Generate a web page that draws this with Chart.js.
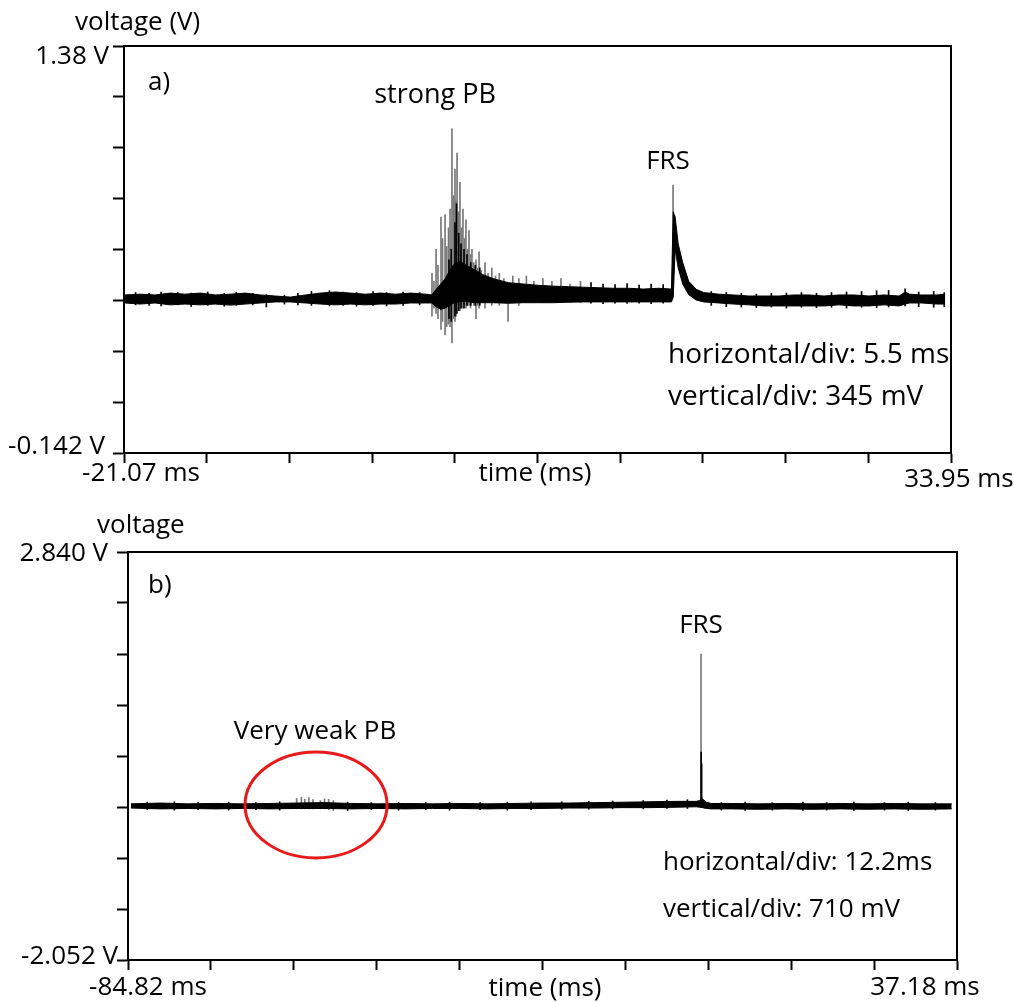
<!DOCTYPE html>
<html>
<head>
    <title>Scope traces - strong PB / very weak PB</title>
    <script src="https://cdn.jsdelivr.net/npm/chart.js"></script>
    <style>
        body { margin: 0; background: #fff; }
        #wrap { position: relative; width: 1014px; height: 1002px; }
        canvas { position: absolute; left: 0; }
    </style>
</head>
<body>
<div id="wrap">
    <canvas id="chartA" width="1014" height="500" style="top:0px"></canvas>
    <canvas id="chartB" width="1014" height="502" style="top:500px"></canvas>
</div>

<script>
    // ---------- panel a) ----------
    const aTimeRange = [-21.07, 33.95];          // ms
    const aVoltRange = [-0.142, 1.38];           // V
    const aTimeTickLabels = ['-21.07 ms', '33.95 ms'];
    const aVoltTickLabels = ['-0.142 V', '1.38 V'];

    // noise band (upper / lower edge of the trace)
    const aBandTime = [-21.0, -20.0, -19.0, -18.0, -17.0, -16.0, -15.0, -14.0, -13.0, -12.0, -11.0, -10.0, -9.0, -8.0, -7.0, -6.0, -5.0, -4.0, -3.0, -2.0, -1.0,
        -0.6, -0.3, 0.0, 0.3, 0.6, 0.9, 1.3, 1.7, 2.2, 2.8, 3.5,
        4.5, 5.5, 6.5, 7.5, 8.5, 9.5, 10.5, 11.5, 12.5, 13.5, 14.5,
        15.35, 15.47, 15.6, 15.8, 16.1, 16.5, 17.0, 17.5,
        18.5, 19.5, 20.5, 21.5, 22.5, 23.5, 24.5, 25.5, 26.5, 27.5, 28.5, 29.5, 30.5,
        30.9, 31.2, 32.0, 33.0, 33.55];
    const aBandHigh = [0.449, 0.452, 0.449, 0.456, 0.452, 0.456, 0.449, 0.452, 0.456, 0.449, 0.445, 0.441, 0.449, 0.456, 0.460, 0.456, 0.452, 0.456, 0.452, 0.456, 0.452,
        0.449, 0.470, 0.490, 0.510, 0.540, 0.565, 0.575, 0.560, 0.545, 0.525, 0.510,
        0.495, 0.490, 0.485, 0.482, 0.480, 0.478, 0.476, 0.474, 0.474, 0.471, 0.474,
        0.471, 0.760, 0.740, 0.640, 0.570, 0.500, 0.470, 0.458,
        0.452, 0.449, 0.445, 0.445, 0.445, 0.449, 0.449, 0.445, 0.449, 0.449, 0.445, 0.449, 0.445,
        0.460, 0.452, 0.449, 0.449, 0.452];
    const aBandLow = [0.419, 0.415, 0.419, 0.412, 0.415, 0.412, 0.415, 0.411, 0.415, 0.419, 0.423, 0.423, 0.419, 0.415, 0.412, 0.415, 0.412, 0.415, 0.415, 0.419, 0.419,
        0.419, 0.405, 0.395, 0.400, 0.410, 0.420, 0.425, 0.425, 0.420, 0.420, 0.420,
        0.418, 0.420, 0.420, 0.420, 0.422, 0.423, 0.423, 0.423, 0.423, 0.423, 0.423,
        0.423, 0.440, 0.620, 0.550, 0.490, 0.450, 0.430, 0.423,
        0.419, 0.415, 0.412, 0.408, 0.408, 0.408, 0.408, 0.408, 0.412, 0.408, 0.408, 0.412, 0.408,
        0.415, 0.419, 0.419, 0.415, 0.415];

    // thin grey discharge spikes (strong PB burst + FRS tip)
    const aSpikeTime = [-0.58, -0.45, -0.31, -0.18, 0.02, 0.12, 0.29, 0.40, 0.52, 0.62, 0.75, 0.85, 0.95,
        1.02, 1.09, 1.18, 1.28, 1.38, 1.48, 1.58, 1.68, 1.78, 1.88, 1.98,
        2.08, 2.20, 2.35, 2.45, 2.55, 2.70, 2.95, 3.15, 3.40, 3.65, 3.90,
        4.20, 4.48, 4.80, 5.20, 5.70, 6.20, 6.80, 7.40, 8.00, 8.60, 9.30, 15.46];
    const aSpikeLow = [0.37, 0.40, 0.38, 0.36, 0.32, 0.35, 0.30, 0.33, 0.34, 0.33, 0.27, 0.36, 0.35,
        0.37, 0.38, 0.39, 0.39, 0.40, 0.40, 0.41, 0.40, 0.41, 0.41, 0.40,
        0.42, 0.41, 0.36, 0.41, 0.40, 0.42, 0.40, 0.42, 0.41, 0.42, 0.41,
        0.42, 0.35, 0.42, 0.41, 0.42, 0.42, 0.42, 0.42, 0.42, 0.42, 0.42, 0.45];
    const aSpikeHigh = [0.53, 0.50, 0.62, 0.56, 0.74, 0.66, 0.75, 0.63, 0.70, 0.77, 1.07, 0.82, 0.92,
        0.80, 0.98, 0.76, 0.87, 0.70, 0.77, 0.66, 0.73, 0.62, 0.69, 0.60,
        0.62, 0.57, 0.58, 0.55, 0.61, 0.54, 0.57, 0.53, 0.55, 0.52, 0.53,
        0.51, 0.49, 0.52, 0.51, 0.52, 0.50, 0.51, 0.50, 0.51, 0.49, 0.50, 0.86];

    // short black noise whiskers on the baseline (and dark core of the PB burst)
    const aNoiseTime = [-20.3, -19.4, -18.6, -17.5, -16.6, -15.5, -14.4, -13.6, -12.5, -11.6, -10.4, -9.5, -8.6, -7.4, -6.5, -5.6, -4.5, -3.6, -2.5, -1.4,
        0.55, 0.70, 0.95, 1.05, 1.20, 1.35, 1.55, 1.75, 2.0, 2.3, 2.6,
        10.0, 10.8, 11.6, 12.4, 13.2, 14.0, 14.8,
        18.0, 19.0, 20.0, 21.0, 22.0, 23.0, 24.0, 25.0, 26.0, 27.0, 28.0, 29.0, 29.8, 30.9, 31.8, 32.8, 33.5];
    const aNoiseLow = [0.412, 0.410, 0.408, 0.412, 0.406, 0.410, 0.407, 0.410, 0.412, 0.404, 0.415, 0.412, 0.410, 0.408, 0.410, 0.407, 0.410, 0.408, 0.410, 0.412,
        0.36, 0.35, 0.37, 0.38, 0.39, 0.40, 0.40, 0.41, 0.41, 0.41, 0.41,
        0.418, 0.416, 0.418, 0.417, 0.418, 0.416, 0.418,
        0.410, 0.405, 0.404, 0.402, 0.404, 0.400, 0.403, 0.401, 0.403, 0.400, 0.403, 0.401, 0.404, 0.408, 0.405, 0.403, 0.405];
    const aNoiseHigh = [0.458, 0.455, 0.460, 0.458, 0.456, 0.460, 0.455, 0.459, 0.455, 0.450, 0.447, 0.455, 0.462, 0.465, 0.460, 0.458, 0.462, 0.458, 0.460, 0.458,
        0.58, 0.62, 0.72, 0.79, 0.68, 0.64, 0.62, 0.60, 0.57, 0.56, 0.55,
        0.495, 0.490, 0.488, 0.492, 0.486, 0.490, 0.488,
        0.462, 0.458, 0.455, 0.452, 0.455, 0.456, 0.458, 0.455, 0.458, 0.460, 0.462, 0.465, 0.466, 0.472, 0.460, 0.462, 0.458];

    // ---------- panel b) ----------
    const bTimeRange = [-84.82, 37.18];
    const bVoltRange = [-2.052, 2.840];
    const bTimeTickLabels = ['-84.82 ms', '37.18 ms'];
    const bVoltTickLabels = ['-2.052 V', '2.840 V'];

    const bBandTime = [-84.4, -80, -76, -72, -68, -64, -60, -56, -52, -48,
        -44, -40, -36, -32, -28, -24, -20, -16, -12, -8,
        -4, -1.2, -0.7, -0.3, 0.3, 1,
        4, 8, 12, 16, 20, 24, 28, 32, 36.4];
    const bBandHigh = [-0.18, -0.17, -0.18, -0.175, -0.18, -0.175, -0.17, -0.165, -0.175, -0.18,
        -0.175, -0.18, -0.175, -0.18, -0.175, -0.17, -0.17, -0.165, -0.16, -0.155,
        -0.15, -0.15, -0.14, -0.12, -0.16, -0.175,
        -0.175, -0.18, -0.175, -0.18, -0.175, -0.18, -0.175, -0.18, -0.18];
    const bBandLow = [-0.23, -0.24, -0.235, -0.24, -0.235, -0.24, -0.235, -0.235, -0.24, -0.235,
        -0.24, -0.235, -0.235, -0.24, -0.235, -0.235, -0.23, -0.23, -0.225, -0.225,
        -0.22, -0.215, -0.22, -0.225, -0.235, -0.24,
        -0.24, -0.245, -0.24, -0.245, -0.24, -0.245, -0.24, -0.245, -0.24];

    const bSpikeTime = [-60.0, -59.3, -58.8, -58.2, -57.6, -56.5, -55.9, -55.3, -54.6, -0.49];
    const bSpikeLow = [-0.24, -0.24, -0.24, -0.24, -0.24, -0.24, -0.24, -0.25, -0.26, -0.22];
    const bSpikeHigh = [-0.115, -0.10, -0.125, -0.105, -0.13, -0.14, -0.12, -0.125, -0.14, 1.617];

    const bNoiseTime = [-82, -78, -74.5, -70, -66, -62.5,
        -52.5, -49, -45, -41, -37.5, -33, -29, -25.5, -21, -17,
        -13.5, -9, -5.5, -2.5, -0.47, -0.40,
        2.5, 6, 10, 14.5, 18, 22, 26.5, 30, 34];
    const bNoiseLow = [-0.25, -0.255, -0.25, -0.255, -0.25, -0.255,
        -0.26, -0.25, -0.255, -0.25, -0.255, -0.25, -0.255, -0.25, -0.245, -0.245,
        -0.24, -0.24, -0.235, -0.235, -0.20, -0.20,
        -0.255, -0.26, -0.255, -0.26, -0.255, -0.26, -0.255, -0.26, -0.255];
    const bNoiseHigh = [-0.16, -0.155, -0.165, -0.16, -0.165, -0.155,
        -0.16, -0.165, -0.16, -0.165, -0.16, -0.165, -0.16, -0.155, -0.155, -0.15,
        -0.145, -0.14, -0.135, -0.13, 0.44, 0.30,
        -0.165, -0.16, -0.165, -0.16, -0.165, -0.16, -0.165, -0.16, -0.165];

    const FONT_FAMILY = '"Open Sans"';

    function pts(xs, ys) { return xs.map((x, i) => ({x: x, y: ys[i]})); }
    function bars(xs, lo, hi) { return xs.map((x, i) => ({x: x, y: [lo[i], hi[i]]})); }
    function evenTicks(min, max, n) {
        const out = [];
        for (let i = 0; i <= n; i++) out.push({value: min + (max - min) * i / n});
        return out;
    }

    // frame (top/right), text labels and the red ellipse
    const scopeText = {
        id: 'scopeText',
        afterDraw(chart, args, opts) {
            const ctx = chart.ctx, a = chart.chartArea;
            const xs = chart.scales.x, ys = chart.scales.y;
            ctx.save();
            ctx.strokeStyle = '#000';
            ctx.lineWidth = 2;
            ctx.beginPath();
            ctx.moveTo(a.left, a.top);
            ctx.lineTo(a.right, a.top);
            ctx.lineTo(a.right, a.bottom);
            ctx.stroke();

            ctx.fillStyle = '#000';
            ctx.textBaseline = 'middle';
            opts.labels.forEach(l => {
                ctx.font = (l.size || 26) + 'px ' + FONT_FAMILY;
                ctx.textAlign = l.align || 'left';
                ctx.fillText(l.text, l.x, l.y);
            });
            ctx.font = '26px ' + FONT_FAMILY;
            opts.tickLabels.forEach(l => {
                let x, y;
                if (l.axis === 'y') { x = a.left + l.dx; y = ys.getPixelForValue(l.value) + l.dy; }
                else { x = xs.getPixelForValue(l.value) + l.dx; y = a.bottom + l.dy; }
                ctx.textAlign = l.align;
                ctx.fillText(l.text, x, y);
            });

            if (opts.ellipse) {
                const e = opts.ellipse;
                const cx = xs.getPixelForValue(e.x), cy = ys.getPixelForValue(e.y);
                const rx = Math.abs(xs.getPixelForValue(e.x + e.rx) - cx);
                const ry = Math.abs(ys.getPixelForValue(e.y + e.ry) - cy);
                ctx.strokeStyle = '#e8191b';
                ctx.lineWidth = 3;
                ctx.beginPath();
                ctx.ellipse(cx, cy, rx, ry, 0, 0, Math.PI * 2);
                ctx.stroke();
            }
            ctx.restore();
        }
    };

    function makeScope(id, d) {
        const datasets = [
            { type: 'line', data: pts(d.bandTime, d.bandHigh), borderColor: '#000', backgroundColor: '#000',
              borderWidth: 1, pointRadius: 0, fill: '+1', order: 0 },
            { type: 'line', data: pts(d.bandTime, d.bandLow), borderColor: '#000',
              borderWidth: 1, pointRadius: 0, fill: false, order: 0 },
            { type: 'bar', data: bars(d.noiseTime, d.noiseLow, d.noiseHigh), backgroundColor: '#000',
              barThickness: 1, grouped: false, borderWidth: 0, order: 1 },
            { type: 'bar', data: bars(d.spikeTime, d.spikeLow, d.spikeHigh), backgroundColor: '#777',
              barThickness: 1, grouped: false, borderWidth: 0, order: 2 }
        ];
        return new Chart(document.getElementById(id), {
            type: 'line',
            data: { datasets: datasets },
            options: {
                responsive: false,
                animation: false,
                devicePixelRatio: 1,
                layout: { padding: d.padding },
                plugins: {
                    legend: { display: false },
                    tooltip: { enabled: false },
                    scopeText: { labels: d.labels, tickLabels: d.tickLabels, ellipse: d.ellipse }
                },
                scales: {
                    x: {
                        type: 'linear', min: d.timeRange[0], max: d.timeRange[1], offset: false,
                        ticks: { display: false },
                        afterBuildTicks: s => { s.ticks = evenTicks(d.timeRange[0], d.timeRange[1], 10); },
                        afterFit: s => { s.height = 10; },
                        grid: { drawOnChartArea: false, drawTicks: true, tickLength: 10, tickWidth: 2, color: '#000', offset: false },
                        border: { display: true, color: '#000', width: 2 }
                    },
                    y: {
                        type: 'linear', min: d.voltRange[0], max: d.voltRange[1],
                        ticks: { display: false },
                        afterBuildTicks: s => { s.ticks = evenTicks(d.voltRange[0], d.voltRange[1], 8); },
                        afterFit: s => { s.width = 11; },
                        grid: { drawOnChartArea: false, drawTicks: true, tickLength: 11, tickWidth: 2, color: '#000' },
                        border: { display: true, color: '#000', width: 2 }
                    }
                }
            },
            plugins: [scopeText]
        });
    }

    makeScope('chartA', {
        timeRange: aTimeRange, voltRange: aVoltRange,
        bandTime: aBandTime, bandHigh: aBandHigh, bandLow: aBandLow,
        spikeTime: aSpikeTime, spikeLow: aSpikeLow, spikeHigh: aSpikeHigh,
        noiseTime: aNoiseTime, noiseLow: aNoiseLow, noiseHigh: aNoiseHigh,
        padding: { left: 113, top: 46, right: 63, bottom: 37 },
        labels: [
            { text: 'voltage (V)', x: 75, y: 23 },
            { text: 'a)', x: 148, y: 83 },
            { text: 'strong PB', x: 435, y: 95, align: 'center', size: 27 },
            { text: 'FRS', x: 668, y: 162, align: 'center' },
            { text: 'horizontal/div: 5.5 ms', x: 668, y: 355, size: 28 },
            { text: 'vertical/div: 345 mV', x: 668, y: 397, size: 28 },
            { text: 'time (ms)', x: 535, y: 474, align: 'center' }
        ],
        tickLabels: [
            { axis: 'y', value: aVoltRange[0], text: aVoltTickLabels[0], dx: -19, dy: -6, align: 'right' },
            { axis: 'y', value: aVoltRange[1], text: aVoltTickLabels[1], dx: -15, dy: 11, align: 'right' },
            { axis: 'x', value: aTimeRange[0], text: aTimeTickLabels[0], dx: 17, dy: 21, align: 'center' },
            { axis: 'x', value: aTimeRange[1], text: aTimeTickLabels[1], dx: 8, dy: 27, align: 'center' }
        ]
    });

    makeScope('chartB', {
        timeRange: bTimeRange, voltRange: bVoltRange,
        bandTime: bBandTime, bandHigh: bBandHigh, bandLow: bBandLow,
        spikeTime: bSpikeTime, spikeLow: bSpikeLow, spikeHigh: bSpikeHigh,
        noiseTime: bNoiseTime, noiseLow: bNoiseLow, noiseHigh: bNoiseHigh,
        padding: { left: 117, top: 52, right: 57, bottom: 32 },
        labels: [
            { text: 'voltage', x: 97, y: 26 },
            { text: 'b)', x: 148, y: 86 },
            { text: 'FRS', x: 701, y: 126, align: 'center' },
            { text: 'Very weak PB', x: 315, y: 232, align: 'center' },
            { text: 'horizontal/div: 12.2ms', x: 663, y: 363 },
            { text: 'vertical/div: 710 mV', x: 663, y: 410 },
            { text: 'time (ms)', x: 545, y: 489, align: 'center' }
        ],
        tickLabels: [
            { axis: 'y', value: bVoltRange[0], text: bVoltTickLabels[0], dx: -10, dy: -3, align: 'right' },
            { axis: 'y', value: bVoltRange[1], text: bVoltTickLabels[1], dx: -20, dy: 2, align: 'right' },
            { axis: 'x', value: bTimeRange[0], text: bTimeTickLabels[0], dx: 20, dy: 28, align: 'center' },
            { axis: 'x', value: bTimeRange[1], text: bTimeTickLabels[1], dx: -32, dy: 28, align: 'center' }
        ],
        ellipse: { x: -57.15, y: -0.193, rx: 10.45, ry: 0.635 }
    });
</script>
</body>
</html>
